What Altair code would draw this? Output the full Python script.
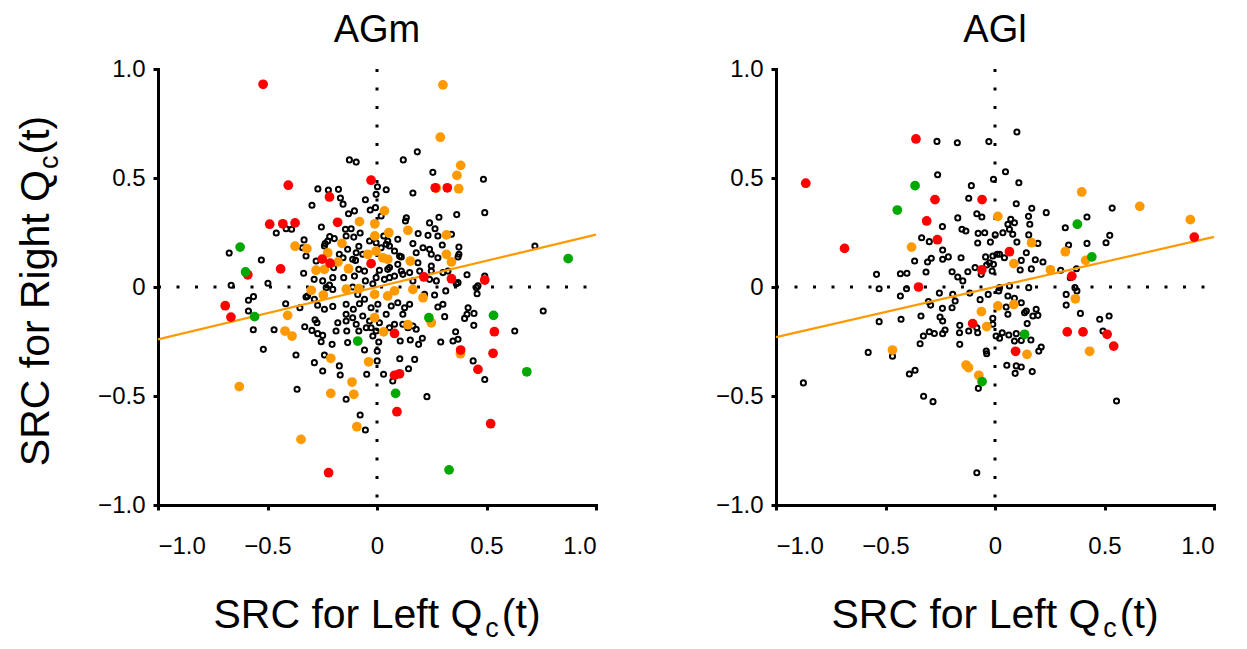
import altair as alt
import pandas as pd

FONT = "Liberation Sans"
ORANGE = "#FF9900"
RED = "#FF0000"
GREEN = "#00A800"

# ---------------- data ----------------
agm_open = [
    (-0.126, 0.583), (-0.095, 0.573), (0.002, 0.46), (-0.27, 0.45), (-0.222, 0.445), (-0.176, 0.448),
    (-0.167, 0.408), (-0.155, 0.38), (-0.297, 0.375), (-0.053, 0.40), (-0.103, 0.349), (-0.13, 0.336),
    (-0.031, 0.353), (-0.007, 0.364), (-0.254, 0.275), (-0.46, 0.248), (-0.415, 0.267), (-0.39, 0.265),
    (-0.144, 0.265), (-0.118, 0.267), (-0.106, 0.229), (-0.077, 0.248), (-0.141, 0.234), (-0.216, 0.231),
    (-0.195, 0.222), (-0.237, 0.199), (-0.333, 0.216), (-0.34, 0.18), (-0.034, 0.211), (-0.004, 0.203),
    (-0.083, 0.187), (-0.095, 0.157), (-0.065, 0.15), (-0.098, 0.122), (-0.083, 0.081), (-0.172, 0.15),
    (-0.155, 0.134), (-0.198, 0.089), (-0.278, 0.119), (-0.335, 0.063), (-0.324, 0.142), (-0.675, 0.156),
    (-0.528, 0.124), (-0.666, 0.008), (-0.498, 0.017), (-0.287, 0.035), (-0.248, 0.028), (-0.217, 0.009),
    (-0.152, 0.043), (-0.111, 0.0), (-0.053, 0.028), (-0.019, 0.015), (-0.004, 0.043),
    (0.184, 0.62), (0.12, 0.583), (0.255, 0.526), (0.486, 0.494), (0.164, 0.431), (0.042, 0.446),
    (0.492, 0.341), (0.364, 0.332), (0.283, 0.32), (0.24, 0.294), (0.265, 0.267), (0.233, 0.237),
    (0.278, 0.234), (0.188, 0.245), (0.134, 0.318), (0.13, 0.303), (0.019, 0.326), (0.095, 0.219),
    (0.164, 0.199), (0.21, 0.18), (0.24, 0.173), (0.298, 0.193), (0.374, 0.183), (0.374, 0.15),
    (0.179, 0.157), (0.248, 0.15), (0.049, 0.211), (0.057, 0.188), (0.103, 0.142), (0.095, 0.104),
    (0.187, 0.111), (0.049, 0.081), (0.149, 0.066), (0.248, 0.073), (0.411, 0.056), (0.492, 0.05),
    (0.721, 0.188), (0.011, 0.077), (0.454, -0.003), (0.057, 0.043), (0.118, 0.058), (0.164, 0.028),
    (0.271, 0.028), (0.031, 0.234), (0.042, 0.196), (0.019, 0.18), (0.34, 0.242), (0.278, 0.134),
    (0.111, 0.138), (0.08, 0.165), (0.37, 0.138), (0.248, 0.096), (0.057, 0.089), (0.111, 0.073),
    (0.301, 0.066), (0.195, 0.073), (0.324, 0.073), (0.24, 0.035), (0.08, 0.05), (0.034, 0.035),
    (0.461, 0.005), (0.37, 0.02), (-0.004, 0.425), (-0.225, 0.211), (-0.24, 0.188), (-0.134, 0.173),
    (-0.111, 0.127), (-0.202, 0.043), (-0.103, 0.05), (-0.057, 0.073),
    (-0.587, -0.061), (-0.564, -0.044), (-0.587, -0.11), (-0.565, -0.196), (-0.47, -0.196), (-0.519, -0.286),
    (-0.417, -0.077), (-0.352, -0.095), (-0.324, -0.046), (-0.271, -0.084), (-0.24, -0.102), (-0.202, -0.089),
    (-0.33, -0.182), (-0.297, -0.199), (-0.271, -0.214), (-0.248, -0.222), (-0.255, -0.251), (-0.283, -0.15),
    (-0.274, -0.164), (-0.37, -0.312), (-0.286, -0.347), (-0.248, -0.385), (-0.205, -0.263), (-0.24, -0.312),
    (-0.179, -0.164), (-0.187, -0.202), (-0.138, -0.202), (-0.134, -0.255), (-0.172, -0.362), (-0.168, -0.404),
    (-0.141, -0.515), (-0.077, -0.587), (-0.053, -0.656), (-0.057, -0.289), (-0.047, -0.4), (-0.141, -0.079),
    (-0.108, -0.102), (-0.08, -0.077), (-0.057, -0.056), (-0.027, -0.095), (-0.004, -0.202), (0.001, -0.294),
    (0.001, -0.339), (-0.365, -0.469), (-0.141, -0.156), (-0.111, -0.141), (-0.095, -0.171), (-0.065, -0.133),
    (-0.034, -0.156), (-0.049, -0.187), (-0.083, -0.202), (-0.317, -0.041), (-0.286, -0.056), (-0.232, -0.003),
    (-0.202, -0.011), (-0.141, -0.125), (-0.088, -0.034), (-0.027, -0.187), (-0.019, -0.225),
    (0.759, -0.11), (0.629, -0.202), (0.492, -0.424), (0.228, -0.503), (0.439, -0.339), (0.291, -0.252),
    (0.347, -0.248), (0.359, -0.205), (0.37, -0.24), (0.442, -0.176), (0.4, -0.144), (0.411, -0.125),
    (0.443, -0.121), (0.416, -0.095), (0.309, -0.136), (0.278, -0.092), (0.301, -0.079), (0.457, -0.031),
    (0.362, 0.015), (0.314, -0.018), (0.263, -0.037), (0.104, -0.329), (0.172, -0.332), (0.144, -0.375),
    (0.03, -0.4), (0.072, -0.431), (0.008, -0.252), (0.106, -0.248), (0.152, -0.243), (0.19, -0.263),
    (0.207, -0.235), (0.179, -0.194), (0.164, -0.179), (0.118, -0.171), (0.08, -0.171), (0.042, -0.125),
    (0.118, -0.125), (0.126, -0.095), (0.149, -0.079), (0.095, -0.072), (0.065, -0.087), (0.004, -0.079),
    (0.217, -0.034), (0.057, -0.187), (0.011, -0.164), (0.141, -0.187),
]
agm_red = [
    (-0.52, 0.93), (-0.405, 0.467), (-0.217, 0.413), (-0.027, 0.49), (-0.49, 0.288), (-0.43, 0.29),
    (-0.374, 0.294), (-0.18, 0.297), (-0.25, 0.128), (-0.214, 0.109), (-0.027, 0.107), (-0.44, 0.083),
    (-0.59, 0.056), (0.266, 0.455), (0.321, 0.455), (0.214, 0.046), (0.34, 0.038), (0.492, 0.032),
    (-0.693, -0.086), (-0.667, -0.138), (-0.221, -0.852), (0.08, -0.213), (0.536, -0.205), (0.382, -0.289),
    (0.53, -0.304), (0.461, -0.378), (0.08, -0.405), (0.103, -0.398), (0.091, -0.572), (0.519, -0.627),
]
agm_orange = [
    (-0.08, 0.30), (-0.01, 0.29), (-0.01, 0.234), (-0.16, 0.20), (-0.374, 0.187), (-0.32, 0.176),
    (-0.225, 0.157), (-0.178, 0.115), (-0.13, 0.084), (-0.042, 0.15), (-0.278, 0.077), (-0.24, 0.081),
    (-0.30, -0.015), (-0.14, -0.01), (-0.083, -0.008),
    (0.301, 0.927), (0.289, 0.687), (0.382, 0.558), (0.365, 0.512), (0.373, 0.451), (0.271, 0.454),
    (0.034, 0.349), (0.054, 0.249), (0.141, 0.26), (0.317, 0.239), (0.317, 0.15), (0.34, 0.115),
    (0.152, 0.119), (0.027, 0.134), (-0.004, 0.165), (0.049, 0.127),
    (-0.245, -0.037), (-0.011, -0.034), (-0.408, -0.13), (-0.42, -0.202), (-0.388, -0.225), (-0.211, -0.327),
    (-0.038, -0.343), (-0.629, -0.457), (-0.211, -0.488), (-0.114, -0.436), (-0.106, -0.492), (-0.092, -0.641),
    (-0.347, -0.699), (-0.011, -0.141),
    (0.248, -0.164), (0.03, -0.206), (0.141, -0.173), (0.381, -0.306), (0.049, -0.041), (0.08, -0.018),
    (0.164, -0.011), (0.21, -0.049),
]
agm_green = [
    (-0.625, 0.183), (-0.60, 0.069), (0.873, 0.13), (-0.559, -0.136), (-0.088, -0.248), (0.237, -0.141),
    (0.532, -0.13), (0.085, -0.488), (0.684, -0.389), (0.329, -0.839),
]
agm_fit_x = [-1.0, 1.0]
agm_fit_y = [-0.24, 0.24]

agl_open = [
    (-0.265, 0.668), (-0.172, 0.662), (-0.028, 0.667), (-0.262, 0.515), (-0.007, 0.494), (-0.108, 0.465),
    (-0.12, 0.407), (-0.083, 0.336), (-0.06, 0.321), (-0.17, 0.317), (-0.24, 0.277), (-0.151, 0.265),
    (-0.133, 0.257), (-0.335, 0.226), (-0.3, 0.208), (-0.077, 0.246), (-0.047, 0.249), (-0.079, 0.202),
    (-0.021, 0.206), (0.001, 0.239), (-0.239, 0.17), (-0.239, 0.127), (-0.213, 0.138), (-0.155, 0.134),
    (-0.291, 0.132), (-0.308, 0.115), (-0.367, 0.119), (-0.315, 0.069), (-0.541, 0.058), (-0.432, 0.061),
    (-0.402, 0.063), (-0.196, 0.07), (-0.17, 0.046), (-0.147, 0.028), (-0.124, 0.07), (-0.091, 0.089),
    (-0.063, 0.058), (-0.043, 0.138), (-0.025, 0.111), (-0.01, 0.142), (0.01, 0.15), (-0.038, 0.101),
    (-0.529, -0.008), (-0.404, -0.008),
    (0.1, 0.711), (0.048, 0.529), (0.109, 0.478), (0.097, 0.382), (0.168, 0.361), (0.234, 0.341),
    (0.535, 0.362), (0.42, 0.321), (0.321, 0.272), (0.153, 0.324), (0.159, 0.288), (0.072, 0.311),
    (0.089, 0.295), (0.059, 0.288), (0.066, 0.265), (0.036, 0.249), (0.081, 0.242), (0.154, 0.239),
    (0.1, 0.206), (0.196, 0.2), (0.336, 0.193), (0.42, 0.2), (0.507, 0.203), (0.524, 0.237),
    (0.021, 0.15), (0.043, 0.134), (-0.007, 0.104), (0.143, 0.157), (0.12, 0.122), (0.184, 0.125),
    (0.219, 0.115), (0.166, 0.083), (0.115, 0.078), (-0.013, 0.073), (0.3, 0.077), (0.372, 0.084),
    (0.344, 0.043), (0.365, -0.003), (0.021, -0.003), (0.066, 0.005), (0.154, -0.003),
    (-0.875, -0.44), (-0.579, -0.3), (-0.468, -0.318), (-0.529, -0.159), (-0.429, -0.148), (-0.432, -0.041),
    (-0.338, -0.133), (-0.304, -0.067), (-0.294, -0.083), (-0.254, -0.028), (-0.24, -0.098), (-0.193, -0.034),
    (-0.182, -0.064), (-0.196, -0.095), (-0.115, -0.028), (-0.068, -0.058), (-0.031, -0.034), (0.017, -0.018),
    (-0.01, -0.144), (-0.251, -0.138), (-0.239, -0.156), (-0.228, -0.197), (-0.239, -0.214), (-0.277, -0.213),
    (-0.3, -0.205), (-0.327, -0.225), (-0.342, -0.26), (-0.161, -0.176), (-0.162, -0.21), (-0.161, -0.263),
    (-0.12, -0.202), (-0.079, -0.21), (-0.083, -0.187), (-0.04, -0.294), (-0.038, -0.306), (-0.391, -0.399),
    (-0.365, -0.382), (-0.326, -0.501), (-0.283, -0.526), (-0.076, -0.465), (-0.083, -0.852), (0.005, -0.225),
    (0.059, -0.041), (0.089, -0.052), (0.12, -0.072), (0.051, -0.092), (0.059, -0.125), (-0.01, -0.171),
    (0.135, -0.118), (0.143, -0.11), (0.173, -0.133), (0.188, -0.102), (0.196, -0.13), (0.147, -0.168),
    (0.033, -0.21), (0.063, -0.22), (0.021, -0.235), (0.097, -0.214), (0.089, -0.248), (0.12, -0.245),
    (0.164, -0.243), (0.211, -0.275), (0.2, -0.294), (0.054, -0.359), (0.097, -0.362), (0.092, -0.396),
    (0.12, -0.367), (0.17, -0.388), (0.325, -0.034), (0.325, -0.083), (0.374, -0.018), (0.39, -0.121),
    (0.478, -0.148), (0.521, -0.133), (0.493, -0.202), (0.555, -0.523),
]
agl_red = [
    (-0.864, 0.476), (-0.361, 0.679), (-0.274, 0.401), (-0.059, 0.401), (-0.312, 0.303), (-0.263, 0.217),
    (-0.687, 0.177), (-0.06, 0.079), (-0.349, 0.0), (0.91, 0.229), (0.066, 0.162), (0.351, 0.05),
    (-0.102, -0.168), (0.094, -0.295), (0.33, -0.206), (0.402, -0.206), (0.512, -0.217), (0.542, -0.271),
]
agl_orange = [
    (-0.381, 0.183), (0.013, 0.324), (0.396, 0.436), (0.661, 0.37), (0.892, 0.309), (0.167, 0.203),
    (0.321, 0.162), (0.086, 0.107), (0.253, 0.079), (0.414, 0.122), (-0.468, -0.289), (-0.062, -0.113),
    (-0.038, -0.182), (0.013, -0.087), (-0.132, -0.358), (-0.121, -0.37), (-0.074, -0.405), (0.086, -0.08),
    (0.367, -0.054), (0.146, -0.309), (0.432, -0.295),
]
agl_green = [
    (-0.365, 0.465), (-0.446, 0.353), (0.376, 0.288), (0.442, 0.138), (-0.059, -0.434), (0.135, -0.217),
]
agl_fit_x = [-1.0, 1.0]
agl_fit_y = [-0.23, 0.23]

tick_values = [-1.0, -0.5, 0.0, 0.5, 1.0]
x_title_main = "SRC for Left Q"
y_title_main = "SRC for Right Q"
sub_text = "c"
tail_text = "(t)"

# ---------------- layout constants ----------------
W, H = 438, 436
TITLE_FS = 41
SUB_FS = 27
TICK_FS = 24

ARIAL = {'S': 667, 'R': 722, 'C': 722, ' ': 278, 'f': 278, 'o': 556, 'r': 333, 'L': 556, 'e': 556,
         't': 278, 'Q': 778, 'i': 222, 'g': 556, 'h': 556, 'c': 500, '(': 333, ')': 333}


def tw(s, size):
    return sum(ARIAL.get(ch, 556) for ch in s) * size / 1000.0


def one_row():
    return pd.DataFrame({"k": [0]})


def text_piece(txt, x, y, size, angle=0):
    kw = dict(text=txt, font=FONT, fontSize=size, color="black", align="left", baseline="alphabetic")
    if angle:
        kw["angle"] = angle
    return alt.Chart(one_row()).mark_text(**kw).encode(x=alt.value(x), y=alt.value(y))


def x_title_layers(base_y, gap=3):
    total = tw(x_title_main, TITLE_FS) + tw(sub_text, SUB_FS) + tw(tail_text, TITLE_FS) + 2 * gap
    x0 = W / 2 - total / 2
    x1 = x0 + tw(x_title_main, TITLE_FS) + gap
    x2 = x1 + tw(sub_text, SUB_FS) + gap
    return [text_piece(x_title_main, x0, base_y, TITLE_FS),
            text_piece(sub_text, x1, base_y + 9, SUB_FS),
            text_piece(tail_text, x2, base_y, TITLE_FS)]


def y_title_layers(base_x, center_shift=4, gap=1):
    total = tw(y_title_main, TITLE_FS) + tw(sub_text, SUB_FS) + tw(tail_text, TITLE_FS) + 2 * gap
    y0 = H / 2 + center_shift + total / 2
    y1 = y0 - tw(y_title_main, TITLE_FS) - gap
    y2 = y1 - tw(sub_text, SUB_FS) - gap
    return [text_piece(y_title_main, base_x, y0, TITLE_FS, 270),
            text_piece(sub_text, base_x + 9, y1, SUB_FS, 270),
            text_piece(tail_text, base_x, y2, TITLE_FS, 270)]


def pts_df(pts):
    return pd.DataFrame({"x": [p[0] for p in pts], "y": [p[1] for p in pts]})


label_expr = "datum.value == 0 ? '0' : format(datum.value, '.1f')"
axis_common = dict(values=tick_values, labelExpr=label_expr, title=None, grid=False,
                   domainColor="black", domainWidth=3, tickColor="black", tickWidth=3, tickSize=5,
                   labelFont=FONT, labelFontSize=TICK_FS, labelColor="black", domainCap="square")
xsc = alt.Scale(domain=[-1, 1], nice=False, zero=False)
ysc = alt.Scale(domain=[-1, 1], nice=False, zero=False)
X_AX = alt.Axis(labelPadding=24, **axis_common)
Y_AX = alt.Axis(labelPadding=8, **axis_common)


def panel(open_pts, red, orange, green, fit_x, fit_y, title, with_ytitle):
    enc = dict(x=alt.X("x:Q", scale=xsc, axis=X_AX), y=alt.Y("y:Q", scale=ysc, axis=Y_AX))
    vrule = alt.Chart(pd.DataFrame({"x": [0.0]})).mark_rule(
        color="black", strokeWidth=3, strokeDash=[3, 15.5], strokeCap="butt").encode(
        x=alt.X("x:Q", scale=xsc, axis=X_AX), y=alt.value(0), y2=alt.value(H))
    hrule = alt.Chart(pd.DataFrame({"y": [0.0]})).mark_rule(
        color="black", strokeWidth=3, strokeDash=[3, 15.5], strokeCap="butt").encode(
        y=alt.Y("y:Q", scale=ysc, axis=Y_AX), x=alt.value(0), x2=alt.value(W))
    opens = alt.Chart(pts_df(open_pts)).mark_point(
        shape="circle", filled=False, color="black", strokeWidth=2, size=26, opacity=1).encode(**enc)
    fit = alt.Chart(pd.DataFrame({"x": fit_x, "y": fit_y})).mark_line(
        color=ORANGE, strokeWidth=2.2).encode(**enc)
    oc = alt.Chart(pts_df(orange)).mark_circle(color=ORANGE, size=95, opacity=1).encode(**enc)
    rc = alt.Chart(pts_df(red)).mark_circle(color=RED, size=95, opacity=1).encode(**enc)
    gc = alt.Chart(pts_df(green)).mark_circle(color=GREEN, size=95, opacity=1).encode(**enc)
    layers = [vrule, hrule, opens, fit, oc, rc, gc] + x_title_layers(H + 123)
    if with_ytitle:
        layers += y_title_layers(-109)
    return alt.layer(*layers).properties(
        width=W, height=H,
        title=alt.TitleParams(title, fontSize=38, font=FONT, fontWeight="normal", color="black",
                              anchor="middle", offset=7))


left = panel(agm_open, agm_red, agm_orange, agm_green, agm_fit_x, agm_fit_y, "AGm", True)
right = panel(agl_open, agl_red, agl_orange, agl_green, agl_fit_x, agl_fit_y, "AGl", False)

chart = alt.hconcat(left, right, spacing=180, bounds="flush").configure_view(stroke=None).properties(
    padding={"left": 7, "top": 4, "right": 5, "bottom": 2}, background="white")

chart.save("out.html", embed_options={"renderer": "svg", "actions": False})
